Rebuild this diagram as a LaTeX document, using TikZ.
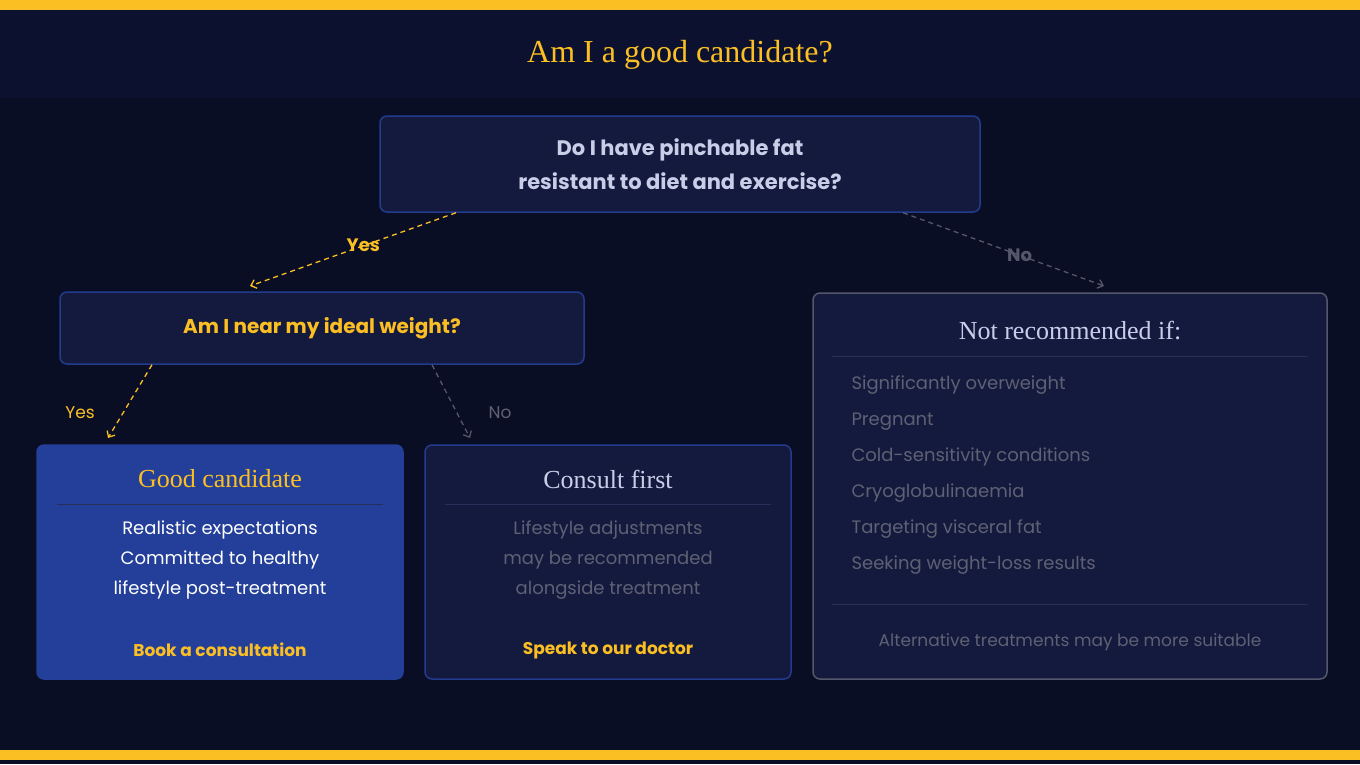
\documentclass[tikz,border=0pt]{standalone}
\usepackage{fontspec}
\setmainfont{Poppins}
\newfontfamily\serif{Liberation Serif}
\usetikzlibrary{arrows.meta}
\definecolor{bg}{HTML}{0A0E24}
\definecolor{band}{HTML}{0C1130}
\definecolor{gold}{HTML}{FBBF24}
\definecolor{boxf}{HTML}{141A3E}
\definecolor{boxd}{HTML}{233B8F}
\definecolor{goodf}{HTML}{233F99}
\definecolor{grayt}{HTML}{5E6173}
\definecolor{grayd}{HTML}{55576A}
\definecolor{pale}{HTML}{C9CEE8}
\definecolor{sep}{HTML}{262E5A}
\tikzset{
 card/.style={draw=boxd,fill=boxf,line width=1.5pt,rounded corners=7pt,inner sep=0pt},
 arr/.style={dashed,dash pattern=on 5pt off 4pt,line width=1.3pt,-{Straight Barb[length=5pt,width=9pt]}},
 body/.style={font=\fontsize{18}{30}\selectfont,align=center},
 ttl/.style={font=\serif\fontsize{26}{30}\selectfont},
}
\begin{document}
\begin{tikzpicture}[x=1pt,y=-1pt]
\fill[bg] (0,0) rectangle (1360,764);
\fill[band] (0,10) rectangle (1360,98);
\fill[gold] (0,0) rectangle (1360,10);
\fill[gold] (0,750) rectangle (1360,760);
\node[text=gold,font=\serif\fontsize{32}{36}\selectfont] (title) at (680,55) {Am I a good candidate?};
\node[card,minimum width=600pt,minimum height=96pt] (q1) at (680,164) {};
\node[text=pale,font=\bfseries\fontsize{21}{34}\selectfont,align=center] at (q1) {Do I have pinchable fat\\resistant to diet and exercise?};
\node[card,minimum width=524pt,minimum height=72pt] (q2) at (322,328) {};
\node[text=gold,font=\bfseries\fontsize{20}{24}\selectfont] at (q2) {Am I near my ideal weight?};
\node[card,fill=goodf,draw=goodf,minimum width=366pt,minimum height=234pt] (good) at (220,562) {};
\node[card,minimum width=366pt,minimum height=234pt] (cons) at (608,562) {};
\node[card,draw=grayd,minimum width=514pt,minimum height=386pt] (notr) at (1070,486) {};
% good
\node[ttl,text=gold] (gt) at (220,479) {Good candidate};
\draw[sep,line width=1pt] (57,504) -- (383,504);
\node[body,text=white] (gb) at (220,560) {Realistic expectations\\Committed to healthy\\lifestyle post-treatment};
\node[text=gold,font=\bfseries\fontsize{17}{20}\selectfont] (ga) at (220,650) {Book a consultation};
% consult
\node[ttl,text=pale] (ct) at (608,479) {Consult first};
\draw[sep,line width=1pt] (445,504) -- (771,504);
\node[body,text=grayt] (cb) at (608,560) {Lifestyle adjustments\\may be recommended\\alongside treatment};
\node[text=gold,font=\bfseries\fontsize{17}{20}\selectfont] (ca) at (608,650) {Speak to our doctor};
% not recommended
\node[ttl,text=pale] (nt) at (1070,331) {Not recommended if:};
\draw[sep,line width=1pt] (832,356) -- (1308,356);
\node[body,text=grayt,align=left,anchor=north west,font=\fontsize{18}{36}\selectfont] (nb) at (848,372) {Significantly overweight\\Pregnant\\Cold-sensitivity conditions\\Cryoglobulinaemia\\Targeting visceral fat\\Seeking weight-loss results};
\draw[sep,line width=1pt] (832,604) -- (1308,604);
\node[text=grayt,font=\fontsize{17}{20}\selectfont] (na) at (1070,642) {Alternative treatments may be more suitable};
% arrows
\coordinate (e1) at (250,286);
\coordinate (e2) at (1104,286);
\coordinate (e3) at (108,438);
\coordinate (e4) at (470,438);
\draw[arr,gold] ([xshift=-224pt]q1.south) -- (e1) node[pos=0.45,text=gold,font=\bfseries\fontsize{18}{20}\selectfont] {Yes};
\draw[arr,grayd] ([xshift=223pt]q1.south) -- (e2) node[pos=0.58,text=grayd,font=\bfseries\fontsize{18}{20}\selectfont] {No};
\draw[arr,gold] ([xshift=-170pt]q2.south) -- (e3);
\draw[arr,grayd] ([xshift=110pt]q2.south) -- (e4);
\node[text=gold,font=\fontsize{17}{20}\selectfont] (y2) at (80,413) {Yes};
\node[text=grayt,font=\fontsize{17}{20}\selectfont] (n2) at (500,413) {No};
\end{tikzpicture}
\end{document}
